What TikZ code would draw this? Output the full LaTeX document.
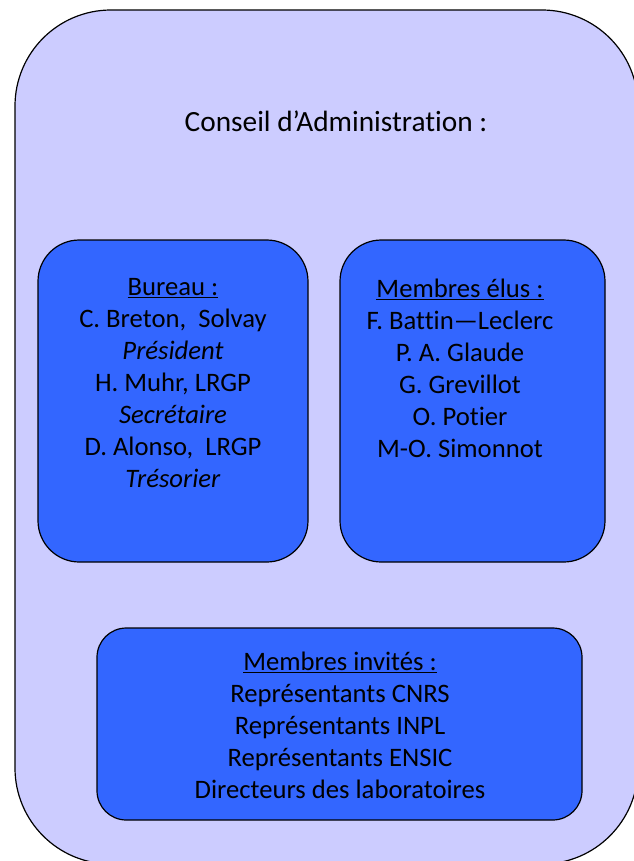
\documentclass[tikz,border=0pt]{standalone}
\usepackage{fontspec}
\setmainfont[Ligatures=NoCommon]{Carlito}
\definecolor{fondca}{HTML}{CCCCFF}
\definecolor{bleugroupe}{HTML}{3366FF}

\begin{document}
\begin{tikzpicture}[x=0.75pt,y=-0.75pt,
	every node/.style={font=\fontsize{20}{24}\selectfont,align=center,inner sep=0pt},
	cadre/.style={draw=black,line width=0.9pt,fill=fondca,rounded corners=72pt},
	groupe/.style={draw=black,line width=0.9pt,fill=bleugroupe,rounded corners=31pt}]
	\useasboundingbox (0,0) rectangle (634,861);
	% les cadres
	\node[cadre,minimum width=467.25pt,minimum height=640.5pt] (ca) at (326.5,437) {};
	\node[groupe,minimum width=202.5pt,minimum height=241.5pt] (bureau) at (173,401) {};
	\node[groupe,minimum width=198.75pt,minimum height=241.5pt] (elus) at (472.5,401) {};
	\node[groupe,rounded corners=22pt,minimum width=363.75pt,minimum height=144pt] (invites) at (339.5,724) {};
	% les textes
	\node[font=\fontsize{22}{26}\selectfont] (titre) at (336,121) {Conseil d’Administration :};
	\node (txtbureau) at (173,383) {\underline{Bureau :}\\C. Breton,\ \ Solvay\\\textit{Président}\\H. Muhr, LRGP\\\textit{Secrétaire}\\D. Alonso,\ \ LRGP\\\textit{Trésorier}};
	\node (txtelus) at (460,368) {\underline{Membres élus :}\\F. Battin—Leclerc\\P. A. Glaude\\G. Grevillot\\O. Potier\\M-O. Simonnot};
	\node (txtinvites) at (340,725) {\underline{Membres invités :}\\Représentants CNRS\\Représentants INPL\\Représentants ENSIC\\Directeurs des laboratoires};
\end{tikzpicture}
\end{document}
